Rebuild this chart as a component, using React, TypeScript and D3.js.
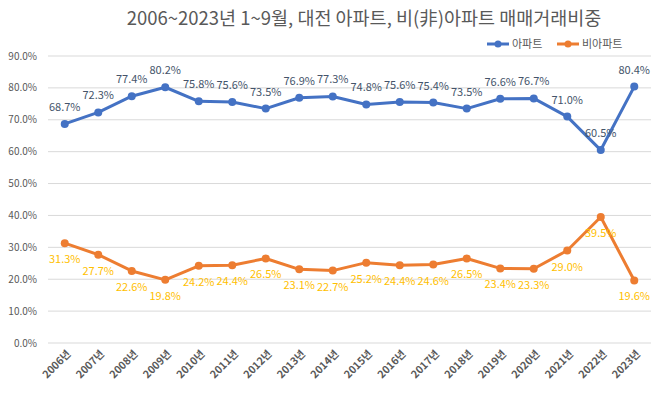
import { useEffect, useRef } from "react";
import * as d3 from "d3";

const years = [
  "2006년", "2007년", "2008년", "2009년", "2010년", "2011년", "2012년", "2013년", "2014년",
  "2015년", "2016년", "2017년", "2018년", "2019년", "2020년", "2021년", "2022년", "2023년",
];
const apt = [68.7, 72.3, 77.4, 80.2, 75.8, 75.6, 73.5, 76.9, 77.3, 74.8, 75.6, 75.4, 73.5, 76.6, 76.7, 71.0, 60.5, 80.4];
const nonApt = [31.3, 27.7, 22.6, 19.8, 24.2, 24.4, 26.5, 23.1, 22.7, 25.2, 24.4, 24.6, 26.5, 23.4, 23.3, 29.0, 39.5, 19.6];
const yTicks = [0, 10, 20, 30, 40, 50, 60, 70, 80, 90];

const W = 661;
const H = 395;
const FONT = "'Noto Sans CJK KR', 'Noto Sans', sans-serif";

export default function App() {
  const svgRef = useRef<SVGSVGElement | null>(null);

  useEffect(() => {
    if (!svgRef.current) return;
    const svg = d3.select(svgRef.current);
    svg.selectAll("*").remove();

    const x = d3.scaleBand<string>().domain(years).range([48, 651]);
    const y = d3.scaleLinear().domain([0, 90]).range([343, 56]);
    const cx = (i: number) => (x(years[i]) ?? 0) + x.bandwidth() / 2;

    svg.append("rect").attr("width", W).attr("height", H).attr("fill", "#fff");

    // 제목
    svg
      .append("text")
      .text("2006~2023년 1~9월, 대전 아파트, 비(非)아파트 매매거래비중")
      .attr("x", 364)
      .attr("y", 25)
      .attr("text-anchor", "middle")
      .style("font-family", FONT)
      .style("font-size", "18.5px")
      .style("fill", "#595959");

    // 그리드 + y축
    const grid = svg.append("g");
    yTicks.forEach((t) => {
      grid
        .append("line")
        .attr("x1", 48)
        .attr("x2", 651)
        .attr("y1", y(t))
        .attr("y2", y(t))
        .attr("stroke", "#d9d9d9")
        .attr("stroke-width", 1);
      grid
        .append("text")
        .text(`${t.toFixed(1)}%`)
        .attr("x", 37)
        .attr("y", y(t))
        .attr("dy", "0.35em")
        .attr("text-anchor", "end")
        .style("font-family", FONT)
        .style("font-size", "10px")
        .style("fill", "#595959");
    });

    // x축 라벨
    years.forEach((yr, i) => {
      svg
        .append("text")
        .text(yr)
        .attr("transform", `translate(${cx(i) + 4},${352}) rotate(-45)`)
        .attr("text-anchor", "end")
        .attr("dy", "0.35em")
        .style("font-family", FONT)
        .style("font-size", "10.5px")
        .style("font-weight", "bold")
        .style("fill", "#595959");
    });

    const series = [
      { values: apt, color: "#4472C4", label: "#44546A", dy: -13 },
      { values: nonApt, color: "#ED7D31", label: "#FFC000", dy: 20 },
    ];

    const line = d3
      .line<number>()
      .x((_, i) => cx(i))
      .y((d) => y(d));

    series.forEach((s) => {
      svg
        .append("path")
        .datum(s.values)
        .attr("d", line)
        .attr("fill", "none")
        .attr("stroke", s.color)
        .attr("stroke-width", 3)
        .attr("stroke-linejoin", "round");
      svg
        .append("g")
        .selectAll("circle")
        .data(s.values)
        .join("circle")
        .attr("cx", (_, i) => cx(i))
        .attr("cy", (d) => y(d))
        .attr("r", 4)
        .attr("fill", s.color);
      svg
        .append("g")
        .selectAll("text")
        .data(s.values)
        .join("text")
        .text((d) => `${d.toFixed(1)}%`)
        .attr("x", (_, i) => cx(i))
        .attr("y", (d) => y(d) + s.dy)
        .attr("text-anchor", "middle")
        .style("font-family", FONT)
        .style("font-size", "11px")
        .style("fill", s.label);
    });

    // 범례
    const legend = [
      { name: "아파트", color: "#4472C4", x: 487 },
      { name: "비아파트", color: "#ED7D31", x: 557 },
    ];
    legend.forEach((l) => {
      const g = svg.append("g").attr("transform", `translate(${l.x},44)`);
      g.append("line").attr("x1", 0).attr("x2", 22).attr("stroke", l.color).attr("stroke-width", 3);
      g.append("circle").attr("cx", 11).attr("r", 3.5).attr("fill", l.color);
      g.append("text")
        .text(l.name)
        .attr("x", 25)
        .attr("dy", "0.35em")
        .style("font-family", FONT)
        .style("font-size", "11px")
        .style("fill", "#595959");
    });
  }, []);

  return (
    <div style={{ margin: -8 }}>
      <svg ref={svgRef} width={W} height={H} style={{ display: "block" }} />
    </div>
  );
}
